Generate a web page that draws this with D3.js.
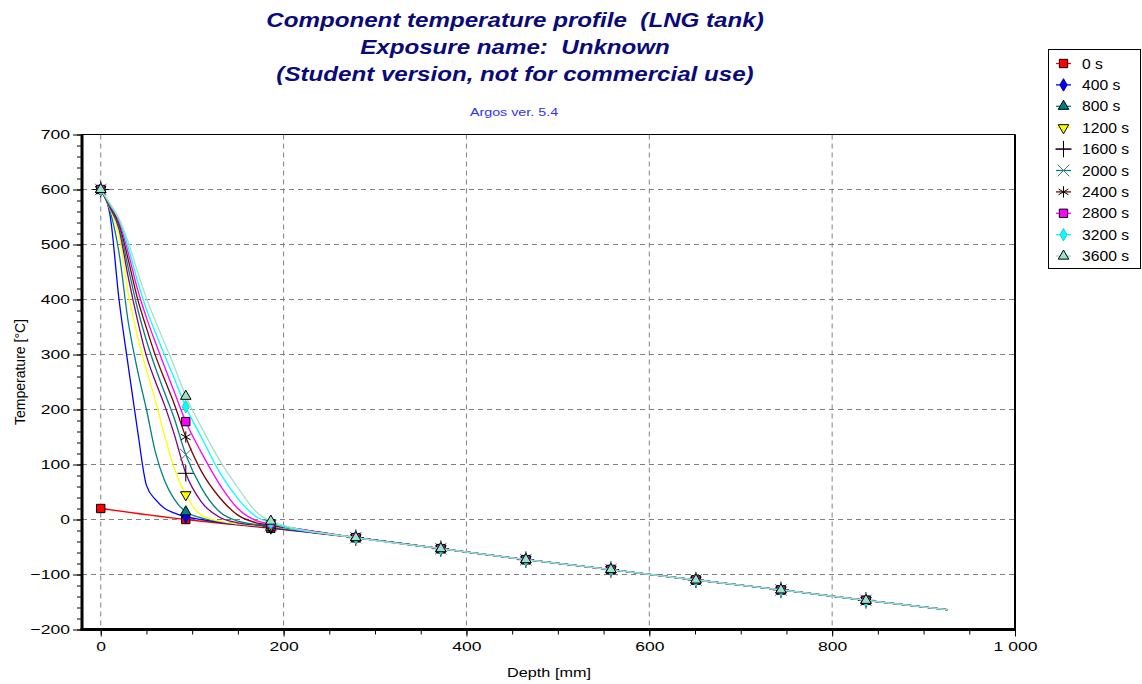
<!DOCTYPE html>
<html>
<head>
<meta charset="utf-8">
<script src="https://cdn.jsdelivr.net/npm/d3@7"></script>
<style>
  body { margin: 0; background: #fff; }
  text { font-family: Arial, "Liberation Sans", sans-serif; }
</style>
</head>
<body>
<svg id="chart" width="1142" height="684"></svg>
<script>
const nearDepths = [0, 10, 20, 30, 40, 50, 60, 70, 80, 93, 110, 130, 150, 170, 186];
const tailDepths = [279, 372, 465, 558, 651, 744, 837, 926];
const tailTemps = [-33, -53, -73, -91, -110, -128, -147, -164];
const markerDepths = [0, 93, 186, 279, 372, 465, 558, 651, 744, 837];

// initial profile (0 s)
const initDepths = [0, 93, 186];
const initTemps = [20, 0, -16];

// temperatures at nearDepths for each time step
const temps400  = [600, 555, 400, 280, 165, 62, 36, 20, 12, 5, 0, -5, -9, -12, -15];
const temps800  = [600, 562, 485, 360, 273, 200, 121, 70, 38, 14, 3, -4, -8, -11, -14];
const temps1200 = [600, 565, 518, 412, 335, 272, 215, 152, 95, 45, 8, -3, -8, -11, -13];
const temps1600 = [600, 567, 528, 441, 364, 297, 250, 207, 157, 84, 32, 4, -6, -10, -12];
const temps2000 = [600, 569, 533, 458, 385, 325, 275, 230, 186, 118, 58, 14, -3, -9, -11];
const temps2400 = [600, 570, 538, 473, 403, 348, 297, 254, 212, 150, 88, 40, 8, -6, -10];
const temps2800 = [600, 572, 542, 485, 420, 367, 321, 277, 234, 178, 122, 64, 20, -2, -8];
const temps3200 = [600, 573, 545, 495, 435, 382, 339, 298, 258, 205, 150, 86, 38, 5, -6];
const temps3600 = [600, 575, 547, 505, 452, 402, 360, 320, 280, 224, 168, 108, 58, 14, -3];

const seriesLabels = ["0 s", "400 s", "800 s", "1200 s", "1600 s", "2000 s", "2400 s", "2800 s", "3200 s", "3600 s"];
const seriesTemps = [initTemps, temps400, temps800, temps1200, temps1600, temps2000, temps2400, temps2800, temps3200, temps3600];

const titleLines = ["Component temperature profile  (LNG tank)", "Exposure name:  Unknown", "(Student version, not for commercial use)"];
const subTitle = "Argos ver. 5.4";
const yTicks = [-200, -100, 0, 100, 200, 300, 400, 500, 600, 700];
const xTicks = [0, 200, 400, 600, 800, 1000];

// look of each series
const styles = [
    { line: "#ff0000", fill: "#ff0000", stroke: "#000", shape: "square" },
    { line: "#0000ff", fill: "#0000ff", stroke: "#000080", shape: "diamond" },
    { line: "#008080", fill: "#008080", stroke: "#000", shape: "triangle" },
    { line: "#ffff00", fill: "#ffff00", stroke: "#000", shape: "triangleDown" },
    { line: "#800080", fill: "none", stroke: "#000", shape: "plus" },
    { line: "#008080", fill: "none", stroke: "#507070", shape: "x" },
    { line: "#800000", fill: "none", stroke: "#000", shape: "asterisk" },
    { line: "#ff00ff", fill: "#ff00ff", stroke: "#000", shape: "square" },
    { line: "#00ffff", fill: "#00ffff", stroke: "#40c0c0", shape: "diamond" },
    { line: "#9fe2c6", fill: "#9fe2c6", stroke: "#000", shape: "triangle" }
];

const svg = d3.select("#chart");
const plot = { left: 82, right: 1015, top: 134.5, bottom: 629.5 };
const stretch = 1.3;   // the reference text is wider than plain Arial

const x = d3.scaleLinear().domain([-20.5, 1000]).range([plot.left, plot.right]);
const y = d3.scaleLinear().domain([-200, 700]).range([plot.bottom, plot.top]);

// build the point lists
const series = seriesTemps.map((temps, i) => {
    const depths = i === 0 ? initDepths : nearDepths;
    const pts = depths.map((d, k) => ({ d: d, t: temps[k] }))
        .concat(tailDepths.map((d, k) => ({ d: d, t: tailTemps[k] })));
    return { label: seriesLabels[i], pts: pts, style: styles[i] };
});

// gridlines
const grid = svg.append("g");
grid.selectAll(".gx").data(xTicks.filter(d => d < 1000)).enter().append("line")
    .attr("x1", d => x(d)).attr("x2", d => x(d))
    .attr("y1", plot.top).attr("y2", plot.bottom)
    .attr("stroke", "#808080").attr("stroke-dasharray", "5,4");
grid.selectAll(".gy").data(yTicks.filter(d => d > -200 && d < 700)).enter().append("line")
    .attr("x1", plot.left).attr("x2", plot.right)
    .attr("y1", d => y(d)).attr("y2", d => y(d))
    .attr("stroke", "#808080").attr("stroke-dasharray", "5,4");

// axes
function stretchText(sel, sx) {
    sel.selectAll("text").each(function() {
        const t = d3.select(this);
        const tx = +t.attr("x") || 0;
        t.attr("x", tx / sx).attr("transform", "scale(" + sx + ",1)");
    });
}

const yMinor = svg.append("g").attr("transform", "translate(" + plot.left + ",0)")
    .call(d3.axisLeft(y).tickValues(d3.range(-200, 701, 20)).tickSize(5).tickFormat(""));
const yMajor = svg.append("g").attr("transform", "translate(" + plot.left + ",0)")
    .call(d3.axisLeft(y).tickValues(yTicks).tickSize(9).tickPadding(3));
const xMinor = svg.append("g").attr("transform", "translate(0," + plot.bottom + ")")
    .call(d3.axisBottom(x).tickValues(d3.range(0, 1001, 50)).tickSize(5).tickFormat(""));
const xMajor = svg.append("g").attr("transform", "translate(0," + plot.bottom + ")")
    .call(d3.axisBottom(x).tickValues(xTicks).tickSize(7).tickPadding(5)
        .tickFormat(d => d === 1000 ? "1 000" : d));
[yMinor, yMajor, xMinor, xMajor].forEach(g => {
    g.select(".domain").remove();
    g.selectAll("line").attr("stroke", "#000");
    g.selectAll("text").attr("font-size", 13.5).attr("fill", "#000")
        .attr("font-family", "Arial, 'Liberation Sans', sans-serif");
});
stretchText(yMajor, stretch);
stretchText(xMajor, stretch);

// plot frame
svg.append("rect")
    .attr("x", plot.left).attr("y", plot.top)
    .attr("width", plot.right - plot.left).attr("height", plot.bottom - plot.top)
    .attr("fill", "none").attr("stroke", "#000").attr("stroke-width", 1);
svg.append("line").attr("x1", plot.left).attr("x2", plot.left)
    .attr("y1", plot.top).attr("y2", plot.bottom + 1.5)
    .attr("stroke", "#000").attr("stroke-width", 3);
svg.append("line").attr("x1", plot.left - 1.5).attr("x2", plot.right + 1)
    .attr("y1", plot.bottom).attr("y2", plot.bottom)
    .attr("stroke", "#000").attr("stroke-width", 3);
svg.append("line").attr("x1", plot.right).attr("x2", plot.right)
    .attr("y1", plot.top).attr("y2", plot.bottom)
    .attr("stroke", "#000").attr("stroke-width", 2);

// marker shapes
function markerPath(shape) {
    switch (shape) {
        case "square": return d3.symbol(d3.symbolSquare, 70)();
        case "diamond": return d3.symbol(d3.symbolDiamond, 45)();
        case "triangle": return d3.symbol(d3.symbolTriangle, 48)();
        case "triangleDown": return d3.symbol(d3.symbolTriangle, 48)();
        case "plus": return d3.symbol(d3.symbolPlus, 90)();
        case "x": return d3.symbol(d3.symbolX, 90)();
        case "asterisk": return d3.symbol(d3.symbolAsterisk, 90)();
    }
}
function drawMarker(g, s, cx, cy) {
    const rot = s.shape === "triangleDown" ? " rotate(180)" : "";
    g.append("path")
        .attr("d", markerPath(s.shape))
        .attr("transform", "translate(" + cx + "," + cy + ")" + rot)
        .attr("fill", s.fill)
        .attr("stroke", s.stroke)
        .attr("stroke-width", 1);
}

// lines and markers
const line = d3.line().x(p => x(p.d)).y(p => y(p.t)).curve(d3.curveMonotoneX);
const plotG = svg.append("g");
series.forEach(s => {
    plotG.append("path").datum(s.pts)
        .attr("d", line)
        .attr("fill", "none")
        .attr("stroke", s.style.line)
        .attr("stroke-width", 1.3);
    s.pts.filter(p => markerDepths.includes(p.d)).forEach(p => {
        drawMarker(plotG, s.style, x(p.d), y(p.t));
    });
});

// titles
titleLines.forEach((t, i) => {
    svg.append("text")
        .attr("transform", "translate(515," + (27 + i * 27) + ") scale(1.15,1)")
        .attr("text-anchor", "middle")
        .style("white-space", "pre")
        .attr("font-size", 21).attr("font-weight", "bold").attr("font-style", "italic")
        .attr("fill", "#0a0a78")
        .text(t);
});
svg.append("text")
    .attr("transform", "translate(514,116) scale(" + stretch + ",1)")
    .attr("text-anchor", "middle")
    .attr("font-size", 11).attr("fill", "#3030ff")
    .text(subTitle);

// axis titles
svg.append("text")
    .attr("transform", "translate(25,372) rotate(-90)")
    .attr("text-anchor", "middle")
    .attr("font-size", 14).attr("fill", "#000")
    .text("Temperature [°C]");
svg.append("text")
    .attr("transform", "translate(549,677) scale(" + stretch + ",1)")
    .attr("text-anchor", "middle")
    .attr("font-size", 12.5).attr("fill", "#000")
    .text("Depth [mm]");

// legend
const legend = svg.append("g");
legend.append("rect")
    .attr("x", 1048.5).attr("y", 49.5).attr("width", 92).attr("height", 219)
    .attr("fill", "#fff").attr("stroke", "#000");
series.forEach((s, i) => {
    const ly = 63.5 + i * 21.4;
    legend.append("line")
        .attr("x1", 1056).attr("x2", 1071).attr("y1", ly).attr("y2", ly)
        .attr("stroke", s.style.line).attr("stroke-width", 1.3);
    drawMarker(legend, s.style, 1063.5, ly);
    legend.append("text")
        .attr("transform", "translate(1082," + (ly + 5) + ") scale(1.12,1)")
        .attr("font-size", 14).attr("fill", "#000")
        .text(s.label);
});
</script>
</body>
</html>
